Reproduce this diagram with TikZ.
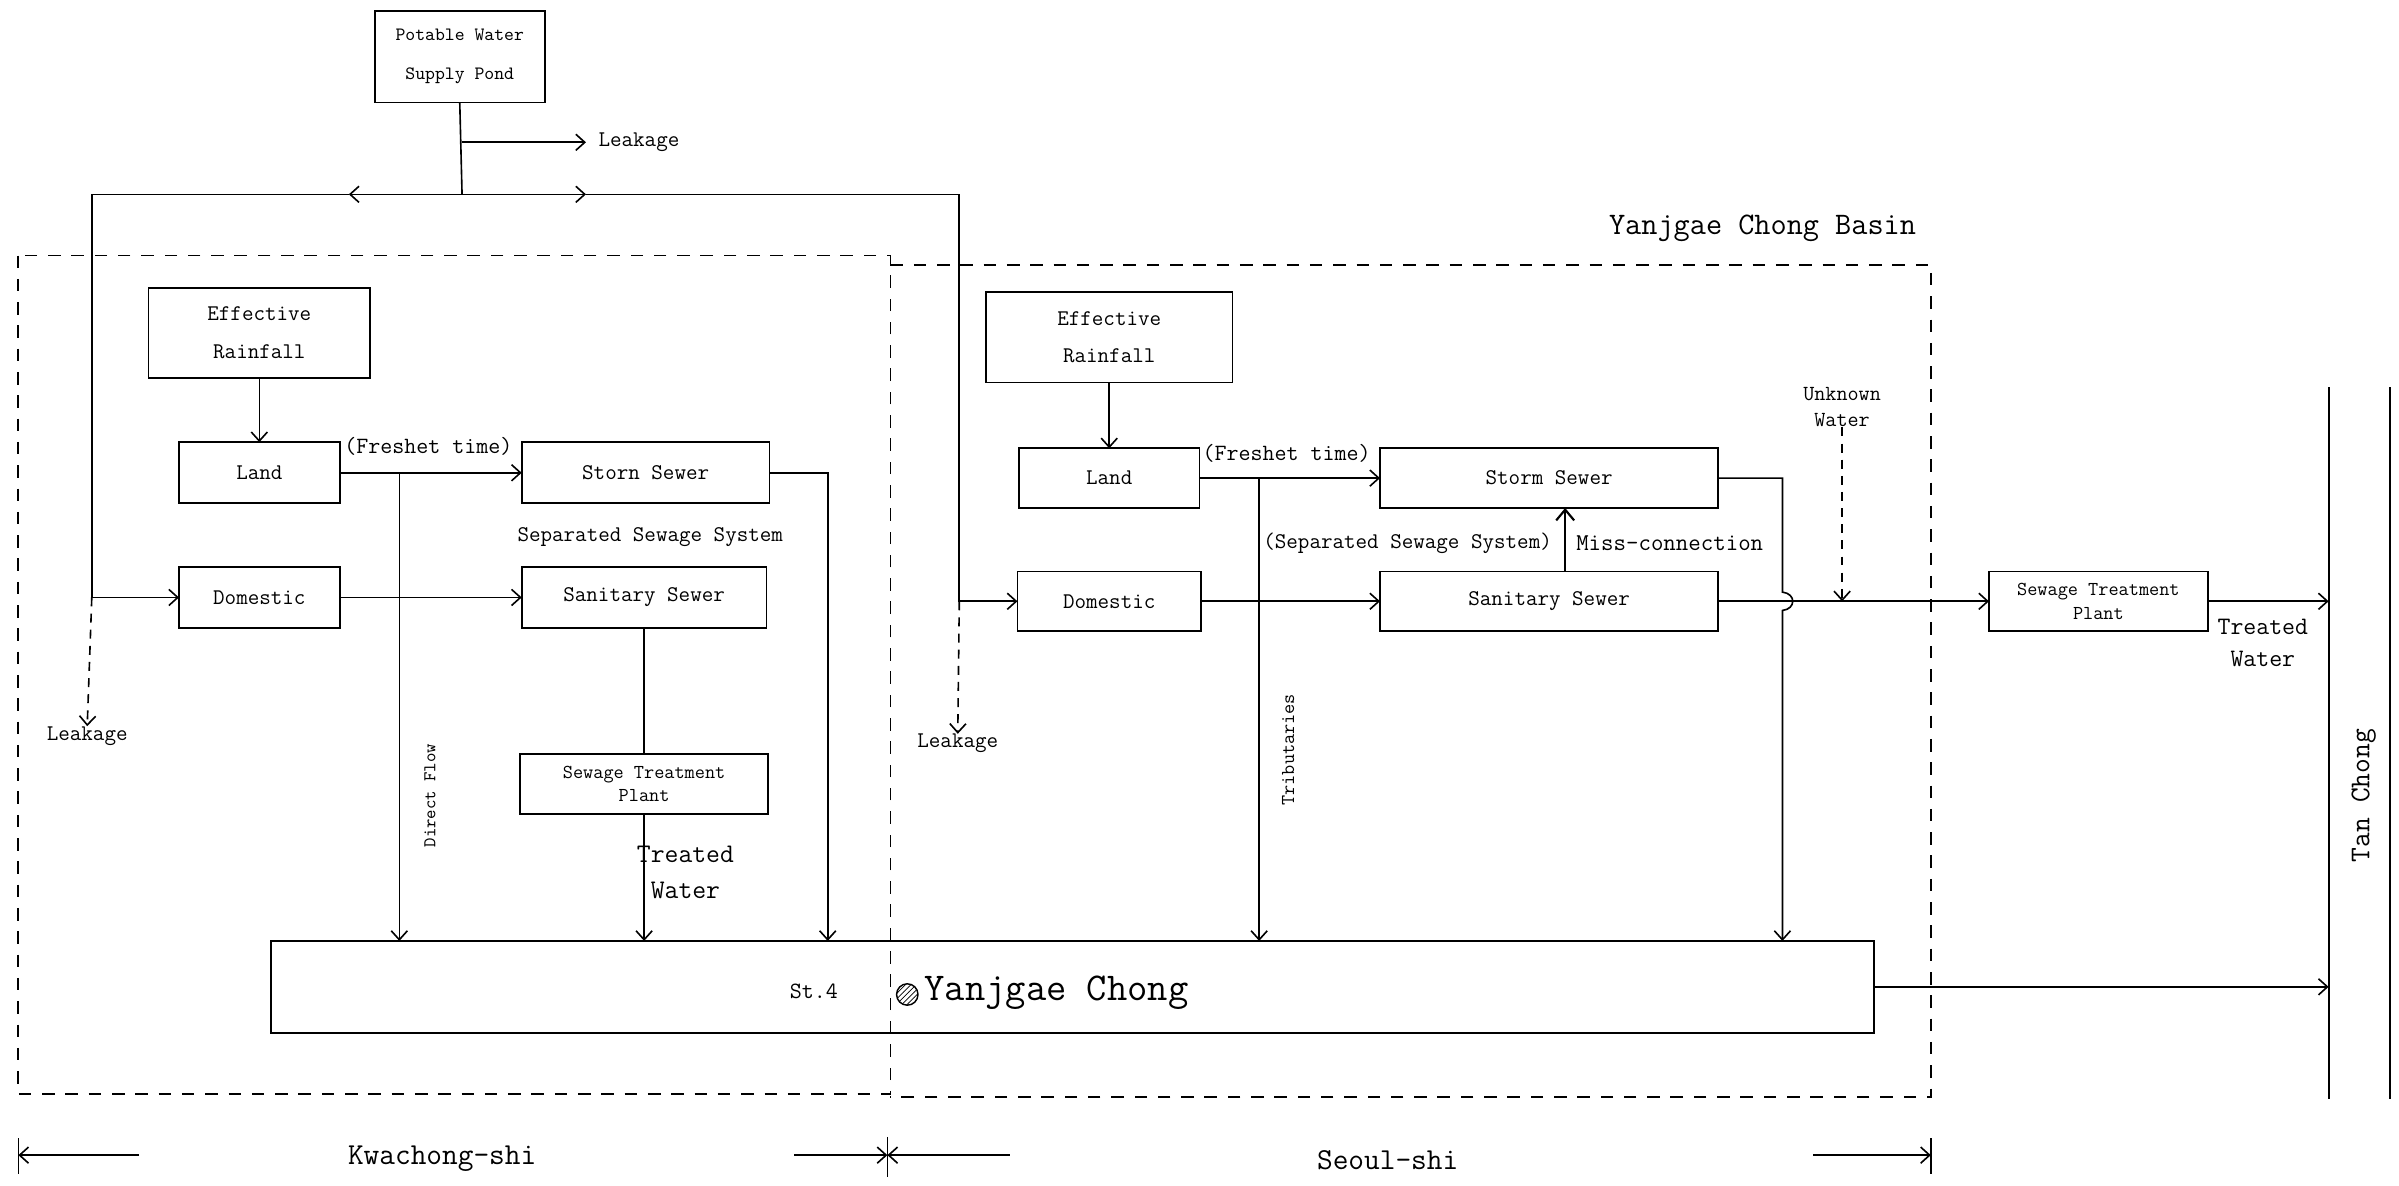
\documentclass[tikz,border=0pt]{standalone}
\usetikzlibrary{arrows.meta,patterns,positioning}
\newcommand{\tfs}[2]{\fontsize{#1}{#2}\selectfont\ttfamily}

\begin{document}
\begin{tikzpicture}[x=0.03cm, y=-0.03cm,
  box/.style={draw, line width=1pt, inner sep=0pt, outer sep=0pt, align=center, font=\tfs{12.5}{21}},
  lbl/.style={inner sep=0pt, align=center, font=\tfs{12.5}{21}},
  pipe/.style={line width=0.9pt},
  flow/.style={line width=0.9pt, -{Straight Barb[length=5pt,width=9pt]}},
  leak/.style={flow, dash pattern=on 5pt off 4pt},
  basin/.style={line width=1pt, dash pattern=on 7pt off 6pt}]
\useasboundingbox (0,0) rectangle (1568,775);

% supply
\node[box, minimum width=3.33cm, minimum height=1.8cm, font=\tfs{10.5}{22}] (pond) at (300.5,37) {Potable Water\\Supply Pond};
\node[lbl, anchor=west] (lk0) at (391,93) {Leakage};
\coordinate (jn) at (302,127);
\coordinate (lkA) at (302,93);
\coordinate (lkB) at (383,93);
\coordinate (wl) at (60,127);
\coordinate (wm) at (228,127);
\coordinate (em) at (383,127);
\coordinate (el) at (627,127);

% basin
\draw[basin] (12,167) rectangle (582,715);
\draw[basin] (582,173) -- (1262,173) -- (1262,717) -- (582,717);
\node[lbl, font=\tfs{17.5}{20}] (basin) at (1152,149) {Yanjgae Chong Basin};

% Kwachong-shi part
\node[box, minimum width=4.35cm, minimum height=1.77cm] (rain1) at (169.5,217.5) {Effective\\Rainfall};
\node[box, minimum width=3.15cm, minimum height=1.2cm] (land1) at (169.5,309) {Land};
\node[box, minimum width=4.86cm, minimum height=1.2cm] (storm1) at (422,309) {Storn Sewer};
\node[box, minimum width=3.15cm, minimum height=1.2cm] (dom1) at (169.5,390.5) {Domestic};
\node[box, minimum width=4.8cm, minimum height=1.2cm] (san1) at (421,390.5) {Sanitary Sewer};
\node[box, minimum width=4.86cm, minimum height=1.17cm, font=\tfs{11}{13}] (stp1) at (421,512.5) {Sewage Treatment\\Plant};
\node[lbl, font=\tfs{13}{15}] (fresh1) at (280,292) {(Freshet time)};
\node[lbl] (sss1) at (425,351) {Separated Sewage System};
\node[lbl, font=\tfs{15}{20}] (tw1) at (448,570) {Treated\\Water};
\node[lbl, font=\tfs{10}{12}, rotate=90] (dflow) at (281,520) {Direct Flow};
\node[lbl] (lk1) at (57,481) {Leakage};
\coordinate (df) at (261,309);
\coordinate (sr1) at (541,309);

% river
\node[box, minimum width=31.44cm, minimum height=1.8cm] (river) at (701,645) {};
\node[lbl, font=\tfs{13}{15}] (st4) at (532,648) {St.4};
\node[circle, draw, line width=0.8pt, pattern=north east lines, minimum size=0.42cm, inner sep=0pt] (stn) at (593,650) {};
\node[lbl, font=\tfs{22}{24}, anchor=west] (yc) at (604,649) {Yanjgae Chong};

% Seoul-shi part
\node[box, minimum width=4.83cm, minimum height=1.77cm] (rain2) at (725,220.5) {Effective\\Rainfall};
\node[box, minimum width=3.54cm, minimum height=1.17cm] (land2) at (725,312.5) {Land};
\node[box, minimum width=6.63cm, minimum height=1.17cm] (storm2) at (1012.5,312.5) {Storm Sewer};
\node[box, minimum width=3.6cm, minimum height=1.17cm] (dom2) at (725,393) {Domestic};
\node[box, minimum width=6.63cm, minimum height=1.17cm] (san2) at (1012.5,393) {Sanitary Sewer};
\node[box, minimum width=4.29cm, minimum height=1.17cm, font=\tfs{11}{13}] (stp2) at (1371.5,393) {Sewage Treatment\\Plant};
\node[lbl, font=\tfs{13}{15}] (fresh2) at (841,296) {(Freshet time)};
\node[lbl] (sss2) at (920,355) {(Separated Sewage System)};
\node[lbl, font=\tfs{13.5}{15}, anchor=west] (miss) at (1030,355) {Miss-connection};
\node[lbl, font=\tfs{12}{15}] (unk) at (1204,266) {Unknown\\Water};
\node[lbl, font=\tfs{11}{13}, rotate=90] (trib) at (842,490) {Tributaries};
\node[lbl, font=\tfs{14}{18}] (tw2) at (1479,420) {Treated\\Water};
\node[lbl] (lk2) at (626,486) {Leakage};
\coordinate (tr) at (823,312.5);
\coordinate (sr2) at (1165,312.5);
\coordinate (hopA) at (1165,387);
\coordinate (hopB) at (1165,399);

% Tan Chong
\coordinate (tc1) at (1522,253);
\coordinate (tc2) at (1562,253);
\draw[line width=1pt] (tc1) -- (1522,718);
\draw[line width=1pt] (tc2) -- (1562,718);
\node[lbl, font=\tfs{16}{18}, rotate=90] (tan) at (1545,520) {Tan Chong};

% water supply
\draw[pipe] (pond.south) -- (jn);
\draw[flow] (lkA) -- (lkB);
\draw[flow] (jn) -- (wm);
\draw[flow] (wm) -- (wl) |- (dom1.west);
\draw[flow] (jn) -- (em);
\draw[flow] (em) -- (el) |- (dom2.west);
\draw[leak] (wl |- dom1.west) -- (lk1.north);
\draw[leak] (el |- dom2.west) -- (lk2.north);

% left flows
\draw[flow] (rain1.south) -- (land1.north);
\draw[flow] (land1) -- (storm1);
\draw[flow] (dom1) -- (san1);
\draw[pipe] (san1) -- (stp1);
\draw[flow] (stp1) -- (stp1 |- river.north);
\draw[flow] (df) -- (df |- river.north);
\draw[flow] (storm1.east) -- (sr1) -- (sr1 |- river.north);

% right flows
\draw[flow] (rain2.south) -- (land2.north);
\draw[flow] (land2) -- (storm2);
\draw[flow] (dom2) -- (san2);
\draw[flow] (tr) -- (tr |- river.north);
\draw[line width=1.2pt, -{Straight Barb[length=6pt,width=10pt]}] (san2.north) ++(10.5,0) coordinate (mcA) -- (mcA |- storm2.south);
\draw[flow] (san2) -- (stp2);
\draw[flow] (storm2.east) -- (sr2) -- (hopA) .. controls (1174,388) and (1174,398) .. (hopB) -- (sr2 |- river.north);
\draw[leak] (unk.south) -- (unk.south |- san2.east);
\draw[flow] (stp2) -- (stp2 -| tc1);
\draw[flow] (river.east) -- (river.east -| tc1);

% districts
\node[lbl, font=\tfs{17}{19}] (kw) at (289,757) {Kwachong-shi};
\node[lbl, font=\tfs{17}{19}] (se) at (907,758) {Seoul-shi};
\draw[flow] (91,755) -- (12,755);
\draw[pipe] (12,744) -- (12,767);
\draw[flow] (519,755) -- (580,755);
\draw[flow] (660,755) -- (580,755);
\draw[pipe] (580,743) -- (580,769);
\draw[flow] (1185,755) -- (1262,755);
\draw[pipe] (1262,744) -- (1262,767);
\end{tikzpicture}
\end{document}
